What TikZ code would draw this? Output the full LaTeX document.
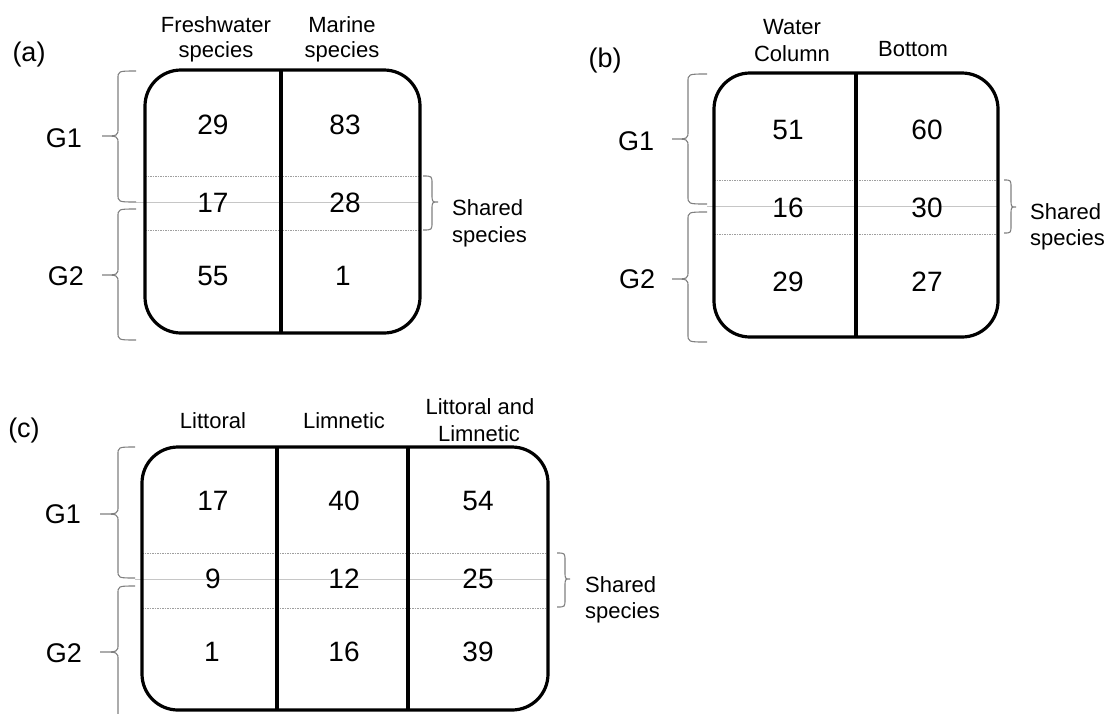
\documentclass[tikz,border=0pt]{standalone}
\usepackage{fontspec}
\setmainfont{Liberation Sans}
\tikzset{
 boxline/.style={line width=3.2pt, rounded corners=36pt},
 divline/.style={line width=3.2pt},
 dotline/.style={draw=gray!75, line width=0.7pt, dash pattern=on 1.5pt off 1pt},
 midline/.style={draw=gray!45, line width=1pt},
 brc/.style={draw=gray, line width=1.1pt},
 num/.style={font=\fontsize{28}{34}\selectfont, inner sep=0pt},
 hdr/.style={font=\fontsize{22}{27}\selectfont, inner sep=0pt, anchor=base},
 glab/.style={font=\fontsize{27}{32}\selectfont, inner sep=0pt, anchor=base},
 plab/.style={font=\fontsize{27}{32}\selectfont, inner sep=0pt},
 shr/.style={font=\fontsize{22}{27}\selectfont, inner sep=0pt, anchor=base west},
 pics/gbrace/.style n args={6}{code={\draw[brc] (#1,#4) .. controls (#2,#4) .. (#2,#4+8) -- (#2,#5-8) .. controls (#2,#5) .. (#3,#5) .. controls (#2,#5) .. (#2,#5+8) -- (#2,#6-8) .. controls (#2,#6) .. (#1,#6);}}
}
\begin{document}
\begin{tikzpicture}[x=1pt,y=-1pt]
\useasboundingbox (0,0) rectangle (1110,713);
%% ---------------- panel (a)
\draw[dotline] (145,176) -- (420,176);
\draw[dotline] (145,230) -- (420,230);
\draw[midline] (136,202) -- (420,202);
\draw[boxline] (145,70) rectangle (420,333);
\draw[divline] (281,70) -- (281,333);
\node[plab] (pa) at (29,55) {(a)};
\node[hdr] (ha1) at (216,32) {Freshwater};
\node[hdr] (ha1b) at (216,57) {species};
\node[hdr] (ha2) at (342,32) {Marine};
\node[hdr] (ha2b) at (342,57) {species};
\node[num] (a11) at (213,125) {29};
\node[num] (a12) at (345,125) {83};
\node[num] (a21) at (213,203) {17};
\node[num] (a22) at (345,203) {28};
\node[num] (a31) at (213,276) {55};
\node[num] (a32) at (343,276) {1};
\node[glab] (ag1) at (64,147) {G1};
\node[glab] (ag2) at (66,285) {G2};
\pic {gbrace={136}{118}{102}{71}{136}{202}};
\pic {gbrace={136}{118}{102}{209}{275}{340}};
\pic {gbrace={423}{432}{438}{176}{202}{230}};
\node[shr] (as1) at (452,215) {Shared};
\node[shr] (as2) at (452,242) {species};
%% ---------------- panel (b)
\draw[dotline] (714,180) -- (998,180);
\draw[dotline] (714,234) -- (998,234);
\draw[midline] (707,206) -- (998,206);
\draw[boxline] (714,73) rectangle (998,337);
\draw[divline] (856,73) -- (856,337);
\node[plab] (pb) at (605,61) {(b)};
\node[hdr] (hb1) at (792,34) {Water};
\node[hdr] (hb1b) at (792,61) {Column};
\node[hdr] (hb2) at (913,56) {Bottom};
\node[num] (b11) at (788,130) {51};
\node[num] (b12) at (927,130) {60};
\node[num] (b21) at (788,208) {16};
\node[num] (b22) at (927,208) {30};
\node[num] (b31) at (788,282) {29};
\node[num] (b32) at (927,282) {27};
\node[glab] (bg1) at (636,150) {G1};
\node[glab] (bg2) at (637,288) {G2};
\pic {gbrace={707}{688}{672}{74}{139}{204}};
\pic {gbrace={707}{688}{672}{212}{279}{342}};
\pic {gbrace={1004}{1011}{1016}{180}{207}{233}};
\node[shr] (bs1) at (1030,219) {Shared};
\node[shr] (bs2) at (1030,245) {species};
%% ---------------- panel (c)
\draw[dotline] (142,553) -- (548,553);
\draw[dotline] (142,608) -- (548,608);
\draw[midline] (135,579) -- (548,579);
\draw[boxline] (142,447) rectangle (548,710);
\draw[divline] (277,447) -- (277,710);
\draw[divline] (408,447) -- (408,710);
\node[plab] (pc) at (24,431) {(c)};
\node[hdr] (hc1) at (213,428) {Littoral};
\node[hdr] (hc2) at (344,428) {Limnetic};
\node[hdr] (hc3) at (480,414) {Littoral and};
\node[hdr] (hc3b) at (479,441) {Limnetic};
\node[num] (c11) at (213,501) {17};
\node[num] (c12) at (344,501) {40};
\node[num] (c13) at (478,501) {54};
\node[num] (c21) at (213,579) {9};
\node[num] (c22) at (344,579) {12};
\node[num] (c23) at (478,579) {25};
\node[num] (c31) at (212,652) {1};
\node[num] (c32) at (344,652) {16};
\node[num] (c33) at (478,652) {39};
\node[glab] (cg1) at (63,523) {G1};
\node[glab] (cg2) at (64,662) {G2};
\pic {gbrace={135}{118}{100}{447}{514}{578}};
\pic {gbrace={135}{118}{100}{586}{652}{720}};
\pic {gbrace={557}{565}{570}{553}{579}{607}};
\node[shr] (cs1) at (585,592) {Shared};
\node[shr] (cs2) at (585,618) {species};
\end{tikzpicture}
\end{document}
